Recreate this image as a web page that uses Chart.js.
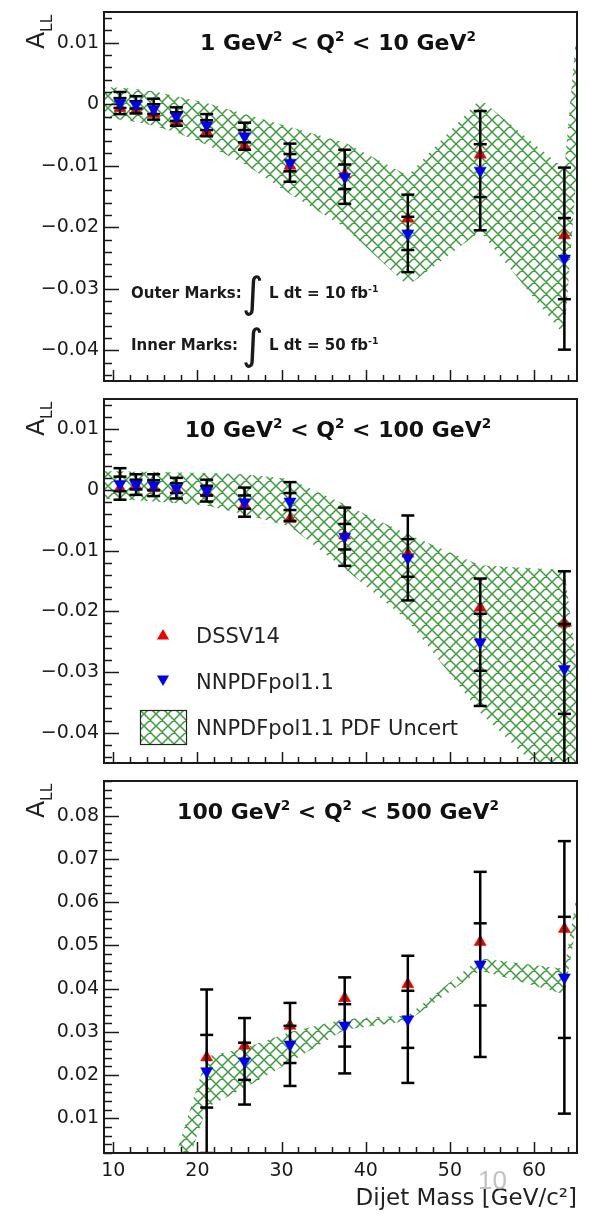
<!DOCTYPE html>
<html><head><meta charset="utf-8">
<script src="https://cdn.jsdelivr.net/npm/chart.js@4.4.1/dist/chart.umd.min.js"></script>
<style>
html,body{margin:0;padding:0;background:#fff;}
body{width:590px;height:1225px;position:relative;overflow:hidden;}
canvas{position:absolute;left:0;}
#pg{position:absolute;left:478px;top:1167px;font:26px/26px "Liberation Sans",Arial,sans-serif;color:#c2c2c2;}
</style></head><body>
<canvas id="c1" width="590" height="390" style="top:0"></canvas>
<canvas id="c2" width="590" height="382" style="top:390px"></canvas>
<canvas id="c3" width="590" height="453" style="top:772px"></canvas>
<div id="pg">10</div>
<script>
const FONT = '"DejaVu Sans", "Liberation Sans", Arial, sans-serif';

// ---------------- data ----------------
const massBins = [10.8, 12.7, 14.8, 17.5, 21.1, 25.6, 31.0, 37.5, 45.0, 53.6, 63.6];
const massBinsHigh = [21.1, 25.6, 31.0, 37.5, 45.0, 53.6, 63.6];

// 1 < Q2 < 10
const q1Nnpdf = [0.0002, -0.0001, -0.0008, -0.0020, -0.0034, -0.0052, -0.0095, -0.0118, -0.0210, -0.0108, -0.0251];
const q1Dssv  = [-0.0006, -0.0010, -0.0016, -0.0029, -0.0045, -0.0068, -0.0100, -0.0114, -0.0186, -0.0082, -0.0213];
const q1ErrOuter = [0.0018, 0.0014, 0.0017, 0.0015, 0.0018, 0.0022, 0.0031, 0.0044, 0.0063, 0.0097, 0.0148];
const q1ErrInner = [0.0008, 0.0006, 0.0008, 0.0007, 0.0008, 0.0010, 0.0014, 0.0020, 0.0027, 0.0043, 0.0066];
const q1BandX  = [8.9, 10.8, 12.7, 14.8, 17.5, 21.1, 25.6, 31.0, 37.5, 45.0, 53.6, 63.6, 65.1];
const q1BandUp = [0.0028, 0.0027, 0.0025, 0.0021, 0.0013, 0.0002, -0.0016, -0.0037, -0.0062, -0.0116, 0.0008, -0.0105, 0.0126];
const q1BandLo = [-0.0022, -0.0025, -0.0029, -0.0035, -0.0046, -0.0066, -0.0097, -0.0146, -0.0200, -0.0295, -0.0207, -0.0376, -0.0105];

// 10 < Q2 < 100
const q2Nnpdf = [0.0010, 0.0009, 0.0008, 0.0003, -0.0001, -0.0020, -0.0019, -0.0077, -0.0112, -0.0251, -0.0295];
const q2Dssv  = [0.0003, 0.0006, 0.0003, 0.0000, -0.0005, -0.0025, -0.0048, -0.0075, -0.0105, -0.0194, -0.0220];
const q2ErrOuter = [0.0026, 0.0017, 0.0018, 0.0017, 0.0018, 0.0024, 0.0032, 0.0048, 0.0070, 0.0105, 0.0161];
const q2ErrInner = [0.0012, 0.0008, 0.0008, 0.0008, 0.0008, 0.0011, 0.0014, 0.0021, 0.0031, 0.0047, 0.0074];
const q2BandX  = [8.9, 10.8, 12.7, 14.8, 17.5, 21.1, 25.6, 31.0, 37.5, 45.0, 53.6, 63.6, 65.1];
const q2BandUp = [0.0031, 0.0031, 0.0030, 0.0030, 0.0029, 0.0028, 0.0026, 0.0018, -0.0024, -0.0073, -0.0124, -0.0132, -0.0290];
const q2BandLo = [-0.0015, -0.0016, -0.0017, -0.0019, -0.0022, -0.0026, -0.0040, -0.0060, -0.0130, -0.0215, -0.0367, -0.0500, -0.0560];

// 100 < Q2 < 500
const q3Nnpdf = [0.0209, 0.0232, 0.0271, 0.0315, 0.0329, 0.0456, 0.0426];
const q3Dssv  = [0.0241, 0.0268, 0.0314, 0.0378, 0.0410, 0.0508, 0.0538];
const q3ErrOuter = [0.0189, 0.0100, 0.0096, 0.0111, 0.0147, 0.0214, 0.0315];
const q3ErrInner = [0.0084, 0.0043, 0.0043, 0.0049, 0.0066, 0.0095, 0.0140];
const q3BandX  = [17.5, 21.1, 25.6, 31.0, 37.5, 45.0, 53.6, 63.6, 65.1];
const q3BandUp = [0.0020, 0.0243, 0.0262, 0.0300, 0.0330, 0.0338, 0.0470, 0.0446, 0.0620];
const q3BandLo = [-0.0080, 0.0125, 0.0170, 0.0230, 0.0305, 0.0325, 0.0442, 0.0387, 0.0556];

// ticks / labels
const xTickValues = [10, 20, 30, 40, 50, 60];
const yTicksLow  = [0.01, 0, -0.01, -0.02, -0.03, -0.04];
const yTicksHigh = [0.01, 0.02, 0.03, 0.04, 0.05, 0.06, 0.07, 0.08];
const xAxisTitle = 'Dijet Mass [GeV/c\u00B2]';
const legendLabels = ['DSSV14', 'NNPDFpol1.1', 'NNPDFpol1.1 PDF Uncert'];
const panelTitles = [
  [['1 GeV','n'],['2','sup'],[' < Q','n'],['2','sup'],[' < 10 GeV','n'],['2','sup']],
  [['10 GeV','n'],['2','sup'],[' < Q','n'],['2','sup'],[' < 100 GeV','n'],['2','sup']],
  [['100 GeV','n'],['2','sup'],[' < Q','n'],['2','sup'],[' < 500 GeV','n'],['2','sup']]
];

// ---------------- helpers ----------------
const RED = 'rgb(236,0,0)', BLUE = 'rgb(0,0,236)', GREEN = '#3f9c3f';

function hatchPattern(ctx) {
  const n = 12;
  const c = document.createElement('canvas'); c.width = n; c.height = n;
  const g = c.getContext('2d');
  g.strokeStyle = GREEN; g.lineWidth = 1.5;
  g.beginPath();
  for (const d of [-n, 0, n]) {
    g.moveTo(d, 0); g.lineTo(d + n, n);
    g.moveTo(d + n, 0); g.lineTo(d, n);
  }
  g.stroke();
  return ctx.createPattern(c, 'repeat');
}
const pts = (xs, ys) => xs.map((x, i) => ({x, y: ys[i]}));
function errSegments(xs, c, e) {
  const out = [];
  xs.forEach((x, i) => { out.push({x, y: c[i] - e[i]}, {x, y: c[i] + e[i]}, {x, y: null}); });
  return out;
}
function errTicks(xs, c, e) {
  const out = [];
  xs.forEach((x, i) => { out.push({x, y: c[i] - e[i]}, {x, y: c[i] + e[i]}); });
  return out;
}
function drawRich(ctx, parts, x, y, size, weight, align) {
  let w = 0;
  const specs = parts.map(([t, m]) => {
    const s = m === 'n' ? size : size * 0.62;
    ctx.font = `${weight} ${s}px ${FONT}`;
    const tw = ctx.measureText(t).width; w += tw;
    return {t, m, s, tw};
  });
  let cx = align === 'center' ? x - w / 2 : align === 'right' ? x - w : x;
  ctx.textAlign = 'left'; ctx.textBaseline = 'alphabetic';
  for (const sp of specs) {
    ctx.font = `${weight} ${sp.s}px ${FONT}`;
    const dy = sp.m === 'sup' ? -size * 0.40 : sp.m === 'sub' ? size * 0.30 : 0;
    ctx.fillText(sp.t, cx, y + dy);
    cx += sp.tw;
  }
  return w;
}
function tri(ctx, cx, cy, r, down, color) {
  const hw = r * 0.866;
  ctx.fillStyle = color; ctx.beginPath();
  if (!down) { ctx.moveTo(cx, cy - r); ctx.lineTo(cx + hw, cy + r / 2); ctx.lineTo(cx - hw, cy + r / 2); }
  else { ctx.moveTo(cx, cy + r); ctx.lineTo(cx + hw, cy - r / 2); ctx.lineTo(cx - hw, cy - r / 2); }
  ctx.closePath(); ctx.fill();
}

function makeDeco(cfg) {
  return {
    id: 'rootDeco',
    afterDatasetsDraw(chart) {
      const {ctx, chartArea: a} = chart;
      const xs = chart.scales.x, ys = chart.scales.y;
      ctx.save();
      ctx.strokeStyle = '#1a1a1a'; ctx.lineWidth = 1.5;
      ctx.beginPath();
      for (let k = Math.ceil(ys.min / cfg.yMinor - 1e-6); k * cfg.yMinor <= ys.max + 1e-9; k++) {
        const py = Math.round(ys.getPixelForValue(k * cfg.yMinor)) + 0.5;
        const len = (k % 5 === 0) ? 15 : 8;
        ctx.moveTo(a.left, py); ctx.lineTo(a.left + len, py);
      }
      for (let k = Math.ceil(xs.min / 2); k * 2 <= xs.max; k++) {
        const px = Math.round(xs.getPixelForValue(k * 2)) + 0.5;
        const len = (k % 5 === 0) ? 11 : 6;
        ctx.moveTo(px, a.bottom); ctx.lineTo(px, a.bottom - len);
      }
      ctx.stroke();
      ctx.lineWidth = 2;
      ctx.strokeRect(a.left, a.top, a.right - a.left, a.bottom - a.top);

      ctx.fillStyle = '#111';
      drawRich(ctx, cfg.title, 338, a.top + 38, 22, 'bold', 'center');
      ctx.save();
      ctx.translate(44, a.top + 37);
      ctx.rotate(-Math.PI / 2);
      ctx.fillStyle = '#222';
      drawRich(ctx, [['A','n'],['LL','sub']], 0, 0, 25, 'normal', 'left');
      ctx.restore();

      if (cfg.annot) {
        ctx.fillStyle = '#1a1a1a';
        const lines = [[298, 'Outer Marks:', '10'], [350, 'Inner Marks:', '50']];
        for (const [yb, lab, lum] of lines) {
          drawRich(ctx, [[lab, 'n']], 131, yb, 15, 'bold', 'left');
          ctx.font = `normal 42px ${FONT}`; ctx.textAlign = 'center';
          ctx.fillText('\u222B', 253, yb + 9);
          drawRich(ctx, [['L dt = ' + lum + ' fb','n'],['-1','sup']], 269, yb, 15, 'bold', 'left');
        }
      }
      if (cfg.legend) {
        tri(ctx, 163, 246, 7, false, RED);
        tri(ctx, 163, 289, 7, true, BLUE);
        ctx.fillStyle = cfg.pattern;
        ctx.fillRect(140, 320, 46, 34);
        ctx.lineWidth = 1.2; ctx.strokeStyle = '#222';
        ctx.strokeRect(140.5, 320.5, 46, 34);
        ctx.fillStyle = '#222';
        drawRich(ctx, [[legendLabels[0],'n']], 196, 253, 21, 'normal', 'left');
        drawRich(ctx, [[legendLabels[1],'n']], 196, 299, 21, 'normal', 'left');
        drawRich(ctx, [[legendLabels[2],'n']], 196, 345, 21, 'normal', 'left');
      }
      ctx.restore();
    }
  };
}

function buildChart(id, cfg) {
  const canvas = document.getElementById(id);
  const ctx = canvas.getContext('2d');
  const pattern = hatchPattern(ctx);
  cfg.pattern = pattern;
  const ptBase = {showLine: false, borderWidth: 0};
  const datasets = [
    Object.assign({label: 'NNPDFpol1.1', data: pts(cfg.x, cfg.nnpdf), pointStyle: 'triangle', rotation: 180,
      pointRadius: 7, pointBackgroundColor: BLUE, pointBorderColor: BLUE, pointBorderWidth: 0.5, order: 0}, ptBase),
    {label: 'err10', data: errSegments(cfg.x, cfg.nnpdf, cfg.outer), showLine: true, spanGaps: false,
      borderColor: '#000', borderWidth: 2.5, pointStyle: 'line', pointRadius: 6.5, pointBorderColor: '#000',
      pointBorderWidth: 2.5, order: 1},
    Object.assign({label: 'err50', data: errTicks(cfg.x, cfg.nnpdf, cfg.inner), pointStyle: 'line', pointRadius: 6.5,
      pointBorderColor: '#000', pointBorderWidth: 2.5, order: 1}, ptBase),
    Object.assign({label: 'DSSV14', data: pts(cfg.x, cfg.dssv), pointStyle: 'triangle',
      pointRadius: 7, pointBackgroundColor: RED, pointBorderColor: RED, pointBorderWidth: 0.5, order: 2}, ptBase),
    {label: 'bandUp', data: pts(cfg.bx, cfg.bup), showLine: true, borderWidth: 0, borderColor: 'rgba(0,0,0,0)',
      pointRadius: 0, fill: '+1', backgroundColor: pattern, order: 3},
    {label: 'bandLo', data: pts(cfg.bx, cfg.blo), showLine: true, borderWidth: 0, borderColor: 'rgba(0,0,0,0)',
      pointRadius: 0, fill: false, order: 3}
  ];
  const H = canvas.height;
  return new Chart(ctx, {
    type: 'line',
    data: {datasets},
    options: {
      responsive: false, animation: false, events: [],
      layout: {padding: {left: 0, top: cfg.top, right: 13, bottom: 0}},
      plugins: {legend: {display: false}, tooltip: {enabled: false}},
      scales: {
        x: {
          type: 'linear', min: 8.9, max: 65.1,
          grid: {display: false, drawTicks: false}, border: {display: false},
          afterBuildTicks: s => { s.ticks = xTickValues.map(v => ({value: v})); },
          ticks: {display: cfg.showX, padding: 7, color: '#1a1a1a', font: {family: FONT, size: 19}, maxRotation: 0},
          title: {display: cfg.showX, text: xAxisTitle, align: 'end', color: '#222',
                  font: {family: FONT, size: 23}, padding: {top: 0, bottom: 12}},
          afterFit: s => { s.height = H - cfg.top - cfg.areaH; s.paddingLeft = 0; s.paddingRight = 0; s.paddingTop = 0; s.paddingBottom = 0; }
        },
        y: {
          type: 'linear', min: cfg.ymin, max: cfg.ymax,
          grid: {display: false, drawTicks: false}, border: {display: false},
          afterBuildTicks: s => { s.ticks = cfg.yticks.map(v => ({value: v})); },
          ticks: {padding: 5, color: '#1a1a1a', font: {family: FONT, size: 19},
            callback: v => v === 0 ? '0' : (v < 0 ? '\u2212' : '') + Math.abs(v).toFixed(2)},
          afterFit: s => { s.width = 104; s.paddingTop = 0; s.paddingBottom = 0; s.paddingLeft = 0; s.paddingRight = 0; }
        }
      }
    },
    plugins: [makeDeco(cfg)]
  });
}

buildChart('c1', {x: massBins, nnpdf: q1Nnpdf, dssv: q1Dssv, outer: q1ErrOuter, inner: q1ErrInner,
  bx: q1BandX, bup: q1BandUp, blo: q1BandLo, ymin: -0.045, ymax: 0.015, yticks: yTicksLow, yMinor: 0.002,
  top: 12, areaH: 376, showX: false, title: panelTitles[0], annot: true});
buildChart('c2', {x: massBins, nnpdf: q2Nnpdf, dssv: q2Dssv, outer: q2ErrOuter, inner: q2ErrInner,
  bx: q2BandX, bup: q2BandUp, blo: q2BandLo, ymin: -0.045, ymax: 0.015, yticks: yTicksLow, yMinor: 0.002,
  top: 4, areaH: 376, showX: false, title: panelTitles[1], legend: true});
buildChart('c3', {x: massBinsHigh, nnpdf: q3Nnpdf, dssv: q3Dssv, outer: q3ErrOuter, inner: q3ErrInner,
  bx: q3BandX, bup: q3BandUp, blo: q3BandLo, ymin: 0.002, ymax: 0.088, yticks: yTicksHigh, yMinor: 0.002,
  top: 5, areaH: 376, showX: true, title: panelTitles[2]});
</script>
</body></html>
